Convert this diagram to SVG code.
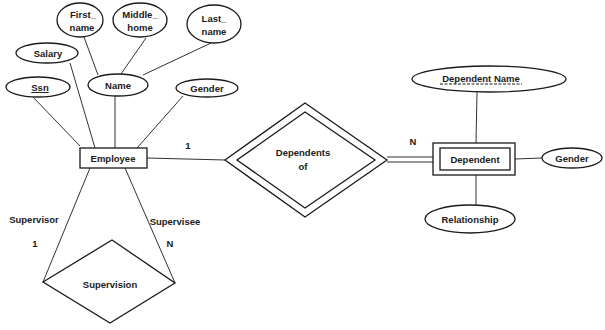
<svg xmlns="http://www.w3.org/2000/svg" width="605" height="330" viewBox="0 0 605 330">
<style>
.sh{fill:#fff;stroke:#1a1a1a;stroke-width:1.3}
.ln{fill:none;stroke:#333;stroke-width:1}
.t{font-family:"Liberation Sans",Arial,sans-serif;font-size:9.5px;font-weight:bold;fill:#1a1a1a;text-anchor:middle}
</style>
<rect width="605" height="330" fill="#fff"/>
<g id="connectors">
<line class="ln" x1="84" y1="37" x2="98" y2="75"/>
<line class="ln" x1="146" y1="38" x2="121" y2="74"/>
<line class="ln" x1="211" y1="43" x2="143" y2="75"/>
<line class="ln" x1="70" y1="63" x2="95" y2="148"/>
<line class="ln" x1="33" y1="97" x2="80" y2="146"/>
<line class="ln" x1="115" y1="96" x2="115" y2="148"/>
<line class="ln" x1="183" y1="96" x2="137" y2="148"/>
<line class="ln" x1="147" y1="158" x2="225" y2="160"/>
<line class="ln" x1="90" y1="168" x2="43" y2="282"/>
<line class="ln" x1="125" y1="168" x2="175" y2="283"/>
<line class="ln" x1="387" y1="157" x2="433" y2="157"/>
<line class="ln" x1="387" y1="162" x2="433" y2="162"/>
<line class="ln" x1="477" y1="92" x2="476" y2="143"/>
<line class="ln" x1="515" y1="159" x2="542" y2="158"/>
<line class="ln" x1="476" y1="175" x2="476" y2="205"/>
<text class="t" x="188" y="149">1</text>
<text class="t" x="413" y="145">N</text>
<text class="t" x="34" y="223">Supervisor</text>
<text class="t" x="35" y="247">1</text>
<text class="t" x="175" y="225">Supervisee</text>
<text class="t" x="170" y="247">N</text>
</g>
<g id="first_name"><ellipse class="sh" cx="80" cy="20" rx="23" ry="17"/><text class="t" x="83" y="18">First_</text><text class="t" x="82" y="31">name</text></g>
<g id="middle_name"><ellipse class="sh" cx="140" cy="20" rx="27" ry="17"/><text class="t" x="140" y="18">Middle_</text><text class="t" x="140" y="31">home</text></g>
<g id="last_name"><ellipse class="sh" cx="214" cy="24" rx="27" ry="19"/><text class="t" x="214" y="22">Last_</text><text class="t" x="214" y="35">name</text></g>
<g id="salary"><ellipse class="sh" cx="47" cy="53" rx="31" ry="10"/><text class="t" x="48" y="57">Salary</text></g>
<g id="ssn"><ellipse class="sh" cx="38" cy="87" rx="32" ry="10"/><text class="t" x="40" y="91" text-decoration="underline">Ssn</text></g>
<g id="name"><ellipse class="sh" cx="118" cy="85" rx="30" ry="11"/><text class="t" x="118" y="89">Name</text></g>
<g id="gender_emp"><ellipse class="sh" cx="207" cy="88" rx="31" ry="9"/><text class="t" x="207" y="92">Gender</text></g>
<g id="employee"><rect class="sh" x="80" y="148" width="67" height="20"/><text class="t" x="113" y="162">Employee</text></g>
<g id="supervision"><polygon class="sh" points="43,282 112,240 175,283 110,323"/><text class="t" x="110" y="288">Supervision</text></g>
<g id="dependents_of"><polygon class="sh" points="225,160 305,103 387,160 305,217"/><polygon class="sh" points="237,160 305,112 375,160 305,208"/><text class="t" x="303" y="156">Dependents</text><text class="t" x="303" y="170">of</text></g>
<g id="dependent"><rect class="sh" x="433" y="143" width="82" height="32"/><rect class="sh" x="440" y="148" width="70" height="22"/><text class="t" x="475" y="163">Dependent</text></g>
<g id="dependent_name"><ellipse class="sh" cx="489" cy="79" rx="77" ry="13"/><text class="t" x="481" y="82">Dependent Name</text><line x1="440" y1="84" x2="522" y2="84" stroke="#1a1a1a" stroke-width="1" stroke-dasharray="3,1.5"/></g>
<g id="gender_dep"><ellipse class="sh" cx="572" cy="158" rx="30" ry="10"/><text class="t" x="572" y="162">Gender</text></g>
<g id="relationship"><ellipse class="sh" cx="470" cy="219" rx="45" ry="14"/><text class="t" x="470" y="223">Relationship</text></g>
</svg>
